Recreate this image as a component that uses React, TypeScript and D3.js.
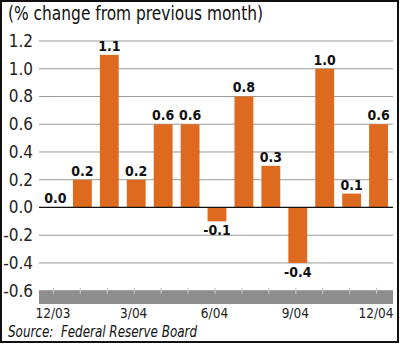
import React from "react";
import * as d3 from "d3";

const categories = ["12/03", "1/04", "2/04", "3/04", "4/04", "5/04", "6/04", "7/04", "8/04", "9/04", "10/04", "11/04", "12/04"];
const values = [0.0, 0.2, 1.1, 0.2, 0.6, 0.6, -0.1, 0.8, 0.3, -0.4, 1.0, 0.1, 0.6];
const yTicks = [-0.6, -0.4, -0.2, 0.0, 0.2, 0.4, 0.6, 0.8, 1.0, 1.2];
const xLabels = ["12/03", "3/04", "6/04", "9/04", "12/04"];
const title = "(% change from previous month)";
const source = "Source:  Federal Reserve Board";

const W = 400;
const H = 344;
const FONT = "'Liberation Sans Narrow', 'DejaVu Sans Condensed', 'Arial Narrow', sans-serif";
const ORANGE = "#DE6A1F";

export default function App() {
  const x = d3.scaleBand<string>().domain(categories).range([42, 392]).paddingInner(0.3).paddingOuter(0.15);
  const y = d3.scaleLinear().domain([-0.6, 1.2]).range([290.7, 41]);
  const gridX0 = 39;
  const gridX1 = 393;
  const bandBottom = 304;

  return (
    <svg width={W} height={H} style={{ position: "absolute", left: 0, top: 0, background: "#fff" }}>
      <rect x={0} y={0} width={W} height={H} fill="#fff" />
      {/* title */}
      <text x={8} y={20} fontFamily={FONT} fontSize={19} fill="#111" textLength={255} lengthAdjust="spacingAndGlyphs">{title}</text>
      {/* grid lines */}
      {yTicks.map((t) => (
        <line key={"g" + t} x1={gridX0} x2={gridX1} y1={y(t)} y2={y(t)} stroke="#9a9a9a" strokeWidth={1} />
      ))}
      {/* y labels */}
      {yTicks.map((t) => (
        <text key={"yl" + t} x={33} y={y(t) + 6} textAnchor="end" fontFamily={FONT} fontSize={17} fill="#222">
          {t.toFixed(1)}
        </text>
      ))}
      {/* bars */}
      {values.map((v, i) => {
        const c = categories[i];
        const y0 = y(0);
        const yv = y(v);
        return (
          <rect key={"b" + c} x={x(c)} y={Math.min(y0, yv)} width={x.bandwidth()} height={Math.abs(yv - y0)} fill={ORANGE} />
        );
      })}
      {/* zero line */}
      <line x1={gridX0} x2={gridX1} y1={y(0)} y2={y(0)} stroke="#111" strokeWidth={1.3} />
      {/* value labels */}
      {values.map((v, i) => {
        const c = categories[i];
        const cx = (x(c) as number) + x.bandwidth() / 2;
        const ly = v < 0 ? y(v) + 14 : y(v) - 4;
        return (
          <text key={"vl" + c} x={cx} y={ly} textAnchor="middle" fontFamily={FONT} fontWeight="bold" fontSize={14} fill="#111">
            {v.toFixed(1)}
          </text>
        );
      })}
      {/* bottom band */}
      <rect x={gridX0} y={y(-0.6)} width={gridX1 - gridX0} height={bandBottom - y(-0.6)} fill="#8e8e8e" />
      {categories.map((c) => {
        const cx = (x(c) as number) + x.bandwidth() / 2 - 2;
        return <line key={"t" + c} x1={cx} x2={cx} y1={y(-0.6) - 3} y2={y(-0.6) + 3} stroke="#c8c8c8" strokeWidth={1.2} />;
      })}
      {/* x labels */}
      {xLabels.map((c) => {
        const cx = (x(c) as number) + x.bandwidth() / 2 - 2.5;
        return (
          <text key={"xl" + c} x={cx} y={318} textAnchor="middle" fontFamily={FONT} fontSize={13.5} fill="#222">
            {c}
          </text>
        );
      })}
      {/* source */}
      <text x={8} y={337} fontFamily={FONT} fontStyle="italic" fontSize={15} fill="#111" style={{ whiteSpace: "pre" }} textLength={189} lengthAdjust="spacingAndGlyphs">{source}</text>
      {/* border */}
      <rect x={1} y={1} width={W - 3} height={H - 3} fill="none" stroke="#111" strokeWidth={2} />
    </svg>
  );
}
